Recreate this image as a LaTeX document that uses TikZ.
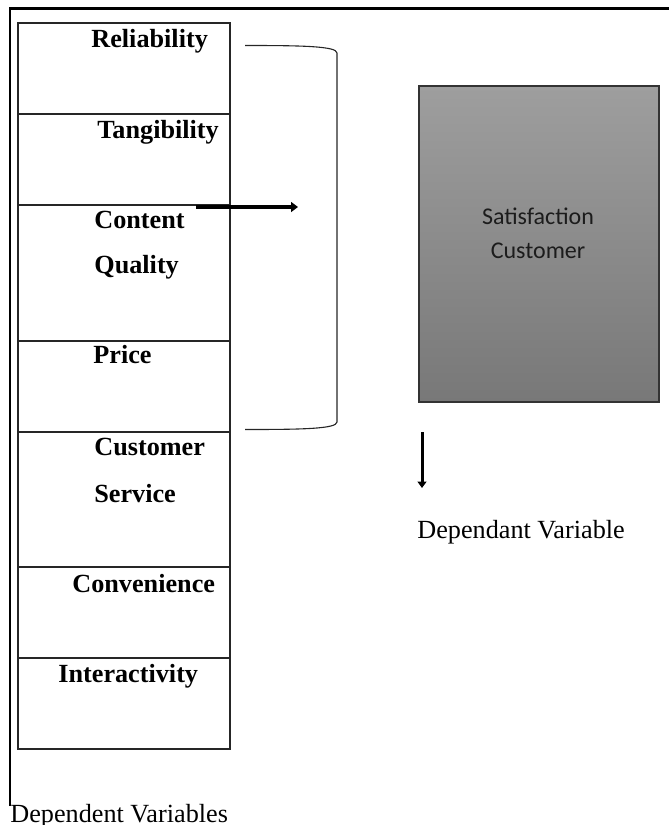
\documentclass[tikz,border=0pt]{standalone}
\usepackage{fontspec}
\setmainfont{Liberation Serif}
\newfontfamily\boxfont{Carlito}
\usetikzlibrary{positioning,arrows.meta}

\definecolor{satTop}{RGB}{158,158,158}
\definecolor{satBot}{RGB}{120,120,120}
\definecolor{satText}{RGB}{28,28,28}

\tikzset{
  cellline/.style={draw=black!85, line width=0.6pt},
  factor/.style={anchor=base west, inner sep=0pt, font=\fontsize{13.1}{15}\selectfont\bfseries},
  caption/.style={anchor=base west, inner sep=0pt, font=\fontsize{13.1}{15}\selectfont},
  boldarrow/.style={line width=2pt, -{Triangle[length=3.4pt,width=4.8pt]}},
}

\begin{document}
\begin{tikzpicture}[x=0.5pt, y=-0.5pt]
  \useasboundingbox (0,0) rectangle (669,825);

  % Frame
  \draw[line width=1.4pt] (10,806) -- (10,8.5) -- (669,8.5);

  % Column of factors
  \foreach \ya/\yb in {23/114, 114/205, 205/341, 341/432, 432/567, 567/658, 658/749}
    \draw[cellline] (18,\ya) rectangle (230,\yb);
  \node[factor] (rel)  at (91,47)  {Reliability};
  \node[factor] (tang) at (97,138) {Tangibility};
  \node[factor] (cont) at (94,228) {Content};
  \node[factor] (qual) at (94,273) {Quality};
  \node[factor] (pri)  at (93,363) {Price};
  \node[factor] (cust) at (94,455) {Customer};
  \node[factor] (serv) at (94,502) {Service};
  \node[factor] (conv) at (72,592) {Convenience};
  \node[factor] (inter) at (58,682) {Interactivity};

  % Bracket
  \draw[line width=0.55pt, black!85] (245,45.5) .. controls (300,45.5) and (337,46) .. (337,53)
    -- (337,422) .. controls (337,429) and (300,429.5) .. (245,429.5);

  % Arrow to the bracket
  \coordinate (arrS) at (196,207);
  \coordinate (arrE) at (298,207);
  \draw[boldarrow] (arrS) -- (arrE);

  % Dependent box
  \shade[top color=satTop, bottom color=satBot] (419,86) rectangle (659,402);
  \draw[draw=black!80, line width=0.8pt] (419,86) rectangle (659,402);
  \node[anchor=base, inner sep=0pt, font=\boxfont\fontsize{12}{14}\selectfont, text=satText] (sat) at (538,224) {Satisfaction};
  \node[anchor=base, inner sep=0pt, font=\boxfont\fontsize{12}{14}\selectfont, text=satText] (satc) at (538,258) {Customer};

  % Down arrow
  \coordinate (dnS) at (422,432);
  \coordinate (dnE) at (422,488);
  \draw[line width=1.5pt, -{Triangle[length=3.2pt,width=4.4pt]}] (dnS) -- (dnE);

  % Captions
  \node[caption] (depvar) at (417,538) {Dependant Variable};
  \node[caption] (depvars) at (10,822) {Dependent Variables};
\end{tikzpicture}
\end{document}
